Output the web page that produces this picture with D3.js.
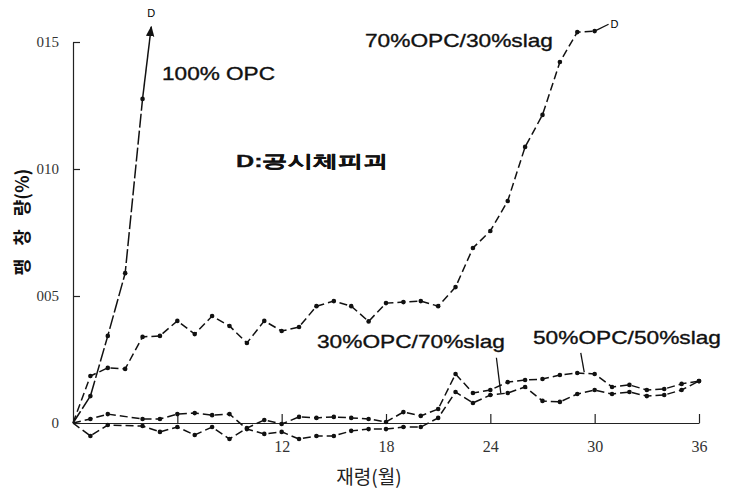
<!DOCTYPE html>
<html>
<head>
<meta charset="utf-8">
<script src="https://cdn.jsdelivr.net/npm/d3@7"></script>
<style>
  body { margin: 0; background: #fff; }
  svg { display: block; }
  .tick text { font-family: "Liberation Serif", "DejaVu Serif", serif; fill: #333; }
  .note { font-family: "Liberation Sans", Arial, sans-serif; fill: #111; stroke: #111; stroke-width: 0.35; }
</style>
</head>
<body>
<svg id="svg" width="730" height="489"></svg>
<script>
// months and expansion (%)
const opc100Months = [0, 1, 2, 3, 4];
const opc100 = [0, 0.00106, 0.00343, 0.0059, 0.01276];
const opc100Arrow = [4.5, 0.0156];

const opc70Months = d3.range(0, 31);
const opc70 = [0, 0.00185, 0.00217, 0.00213, 0.00339, 0.00343, 0.00402, 0.0035, 0.00421, 0.00382,
  0.00315, 0.00402, 0.00362, 0.00378, 0.0046, 0.0048, 0.0046, 0.004, 0.00472, 0.00476,
  0.0048, 0.0046, 0.00535, 0.00689, 0.00756, 0.00874, 0.01087, 0.01213, 0.01421, 0.01539, 0.01543];

const lowMonths = [0, 1, 2, 4, 5, 6, 7, 8, 9, 10, 11, 12, 13, 14, 15, 16, 17, 18, 19, 20,
  21, 22, 23, 24, 25, 26, 27, 28, 29, 30, 31, 32, 33, 34, 35, 36];
const opc30 = [0, 0.00016, 0.00035, 0.00016, 0.00016, 0.00035, 0.00039, 0.00031, 0.00035, -0.00024,
  -0.00043, -0.00035, -0.00063, -0.00051, -0.00051, -0.00031, -0.00024, -0.00024, -0.00016, -0.00016,
  0.0002, 0.00122, 0.00079, 0.0011, 0.00118, 0.00142, 0.00087, 0.00083, 0.00114, 0.0013,
  0.00114, 0.00122, 0.00106, 0.0011, 0.0013, 0.00165];
const opc50 = [0, -0.00051, -0.00008, -0.00012, -0.00035, -0.00016, -0.00047, -0.00016, -0.00063, -0.0002,
  0.00012, -0.00004, 0.00024, 0.0002, 0.00024, 0.0002, 0.00016, 0.00004, 0.00043, 0.00028,
  0.00055, 0.00193, 0.00118, 0.0013, 0.00161, 0.00169, 0.00173, 0.00189, 0.00197, 0.00193,
  0.00142, 0.0015, 0.0013, 0.00134, 0.00154, 0.00165];

const xTicks = [6, 12, 18, 24, 30, 36];
const xTickLabels = ["", "12", "18", "24", "30", "36"];
const yTicks = [0, 0.005, 0.01, 0.015];
const yTickLabels = ["0", "005", "010", "015"];

const svg = d3.select("#svg");
const x = d3.scaleLinear().domain([0, 36]).range([73, 699]);
const y = d3.scaleLinear().domain([0, 0.015]).range([423, 42]);

// axes
const xAxis = d3.axisBottom(x).tickValues(xTicks)
  .tickFormat((d, i) => xTickLabels[i]).tickSizeInner(-9).tickSizeOuter(0).tickPadding(18);
const gx = svg.append("g").attr("transform", `translate(0,${y(0)})`).call(xAxis);
gx.selectAll("text").attr("font-size", 16);

const yAxis = d3.axisLeft(y).tickValues(yTicks)
  .tickFormat((d, i) => yTickLabels[i]).tickSizeInner(-7).tickSizeOuter(0).tickPadding(14);
const gy = svg.append("g").attr("transform", `translate(${x(0)},0)`).call(yAxis);
gy.selectAll("text").attr("font-size", 15);
svg.selectAll(".domain, .tick line").attr("stroke", "#222").attr("stroke-width", 1.2);

// series
const line = d3.line().x(d => x(d[0])).y(d => y(d[1]));
const series = [
  { m: opc100Months, v: opc100, dash: "14,3" },
  { m: opc70Months, v: opc70, dash: "8,4" },
  { m: lowMonths, v: opc30, dash: "8,4" },
  { m: lowMonths, v: opc50, dash: "8,4" }
];
series.forEach(s => {
  const pts = s.m.map((d, i) => [d, s.v[i]]);
  svg.append("path").datum(pts).attr("d", line)
    .attr("fill", "none").attr("stroke", "#111").attr("stroke-width", 1.5)
    .attr("stroke-dasharray", s.dash);
  svg.append("g").selectAll("circle").data(pts.slice(1)).join("circle")
    .attr("cx", d => x(d[0])).attr("cy", d => y(d[1])).attr("r", 2.3).attr("fill", "#111");
});

// 100% OPC arrow up to failure
svg.append("defs").append("marker").attr("id", "arr")
  .attr("viewBox", "0 0 10 10").attr("refX", 9).attr("refY", 5)
  .attr("markerWidth", 7).attr("markerHeight", 7).attr("orient", "auto")
  .append("path").attr("d", "M0,1L10,5L0,9z").attr("fill", "#111");
svg.append("line")
  .attr("x1", x(opc100Months[4])).attr("y1", y(opc100[4]))
  .attr("x2", x(opc100Arrow[0])).attr("y2", y(opc100Arrow[1]))
  .attr("stroke", "#111").attr("stroke-width", 1.5).attr("marker-end", "url(#arr)");
svg.append("text").attr("x", x(opc100Arrow[0])).attr("y", 17)
  .attr("font-family", "'Liberation Sans', Arial, sans-serif")
  .attr("text-anchor", "middle").attr("font-size", 11).text("D");

// 70/30 end: dash to D
svg.append("line")
  .attr("x1", x(30)).attr("y1", y(opc70[30]))
  .attr("x2", x(30.8)).attr("y2", y(0.0157))
  .attr("stroke", "#111").attr("stroke-width", 1.3);
svg.append("text").attr("x", x(30.8) + 2).attr("y", y(0.0157) + 4)
  .attr("font-family", "'Liberation Sans', Arial, sans-serif")
  .attr("font-size", 11).text("D");

// leader lines
const leaders = [
  [[24.35, 0.00257], [24.6, 0.00118]],
  [[29.2, 0.00276], [29.4, 0.002]]
];
leaders.forEach(l => {
  svg.append("line").attr("x1", x(l[0][0])).attr("y1", y(l[0][1]))
    .attr("x2", x(l[1][0])).attr("y2", y(l[1][1]))
    .attr("stroke", "#111").attr("stroke-width", 1.3);
});

// labels
const notes = [
  { t: "100% OPC", x: 162, y: 80, w: 113, s: 18 },
  { t: "D:공시체피괴", x: 236, y: 167, w: 152, s: 17 },
  { t: "70%OPC/30%slag", x: 365, y: 47, w: 188, s: 19 },
  { t: "30%OPC/70%slag", x: 317, y: 348, w: 188, s: 19 },
  { t: "50%OPC/50%slag", x: 533, y: 344, w: 188, s: 19 }
];
notes.forEach(n => {
  svg.append("text").attr("class", "note").attr("x", n.x).attr("y", n.y)
    .attr("font-size", n.s).attr("font-weight", n.t.startsWith("D:") ? "bold" : "normal")
    .attr("textLength", n.w).attr("lengthAdjust", "spacingAndGlyphs").text(n.t);
});

// axis titles
const yTitle = svg.append("text").attr("transform", "translate(29,222) rotate(-90)")
  .attr("text-anchor", "middle").attr("font-size", 18).attr("font-weight", "bold")
  .attr("font-family", "'Noto Sans CJK KR', sans-serif").attr("fill", "#111");
yTitle.append("tspan").text("팽");
yTitle.append("tspan").attr("dx", 13).text("창");
yTitle.append("tspan").attr("dx", 13).text("량(%)");
svg.append("text").attr("x", 369).attr("y", 484)
  .attr("text-anchor", "middle").attr("font-size", 19)
  .attr("font-family", "'Noto Sans CJK KR', sans-serif").attr("fill", "#222")
  .text("재령(월)");
</script>
</body>
</html>
